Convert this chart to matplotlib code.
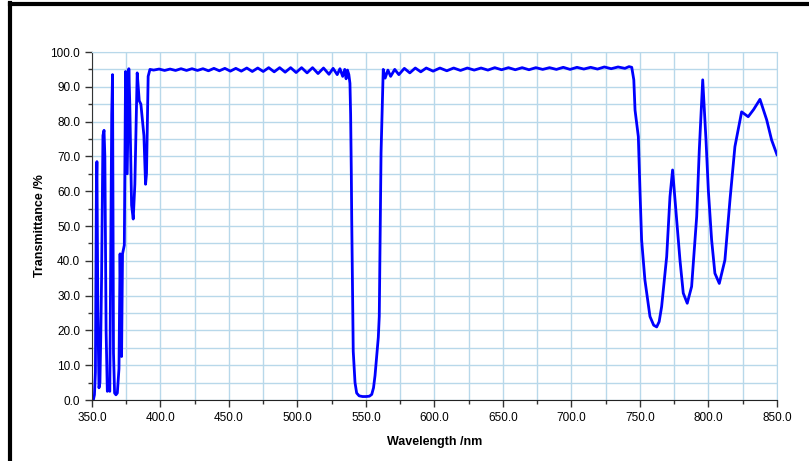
import numpy as np
import matplotlib.pyplot as plt
from matplotlib.lines import Line2D

# UV edge: fast oscillations 350-392 nm
uv_wl = [350, 351, 351.8, 352.5, 353.2, 353.6, 354.3, 355.1, 355.8, 356.4, 357.0, 358.0, 358.8,
         359.4, 360.3, 361.2, 362.0, 363.0, 363.8, 364.4, 365.0, 365.7, 366.5, 367.5, 368.5,
         369.7, 370.5, 371.6, 372.3, 373.6, 374.5, 375.7, 376.9, 377.6, 378.9, 380.1, 381.3,
         383.0, 384.5, 385.7, 387.9, 389.1, 389.8, 391.0, 392.3]
uv_t = [0, 0, 1.5, 8, 60, 68.5, 25, 3.5, 5, 18, 35, 76, 77.5,
        70, 20, 2.5, 3, 2.5, 50, 82, 93.5, 13.5, 2, 1.5, 2,
        9, 42, 12.5, 42, 44.5, 94.4, 65, 95.2, 85, 56, 52, 62,
        94, 86, 85, 76, 62, 65, 93, 95]

# pass band 392-538 nm
pb1_wl = [395, 399, 403, 407, 411, 415, 419, 423, 427, 431, 435, 439, 443, 447, 451, 455,
          459, 463, 467, 471, 475, 479, 483, 487, 491, 495, 499, 503, 507, 511, 515, 519,
          523, 526, 529, 531, 533, 534.5, 535.5, 536.5, 537.5]
pb1_t = [94.8, 95.1, 94.7, 95.1, 94.7, 95.2, 94.7, 95.2, 94.7, 95.2, 94.6, 95.3, 94.6, 95.3,
         94.5, 95.3, 94.5, 95.4, 94.4, 95.4, 94.4, 95.5, 94.3, 95.5, 94.2, 95.5, 94.1, 95.5,
         94.0, 95.5, 93.8, 95.4, 93.6, 95.3, 93.5, 95.2, 93.0, 95.0, 92.3, 94.8, 93.5]

# notch around 550 nm
notch_wl = [538.3, 538.8, 539.3, 539.6, 540.3, 540.7, 542.0, 543.2, 545.0, 547.5, 550.0,
            552.5, 554.2, 555.5, 556.6, 557.8, 559.0, 559.7, 560.2, 561.0, 562.6]
notch_t = [91, 82, 65, 51.7, 27, 14, 5, 2, 1.2, 1.0, 1.0,
           1.1, 1.6, 3.5, 7, 12.6, 18, 24, 43, 71, 95]

# pass band 563-745 nm
pb2_wl = [564, 566, 568, 571, 574, 578, 582, 586, 590, 594, 599, 604, 609, 614, 619, 624,
          629, 634, 639, 644, 649, 654, 659, 664, 669, 674, 679, 684, 689, 694, 699, 704,
          709, 714, 719, 724, 729, 734, 739, 742, 744]
pb2_t = [92.5, 94.8, 93.0, 95.0, 93.5, 95.3, 94.0, 95.4, 94.3, 95.4, 94.5, 95.4, 94.6, 95.4,
         94.7, 95.4, 94.8, 95.4, 94.8, 95.5, 94.9, 95.5, 94.9, 95.5, 94.9, 95.5, 95.0, 95.5,
         95.0, 95.6, 95.0, 95.6, 95.1, 95.6, 95.1, 95.7, 95.2, 95.7, 95.3, 95.8, 95.6]

# NIR oscillations 745-850 nm
nir_wl = [745.5, 746.4, 748.8, 750.0, 751.2, 753.6, 757.3, 760.0, 762.2, 764.0, 765.8, 769.5,
          771.9, 773.8, 776.8, 779.2, 781.6, 784.5, 787.7, 791.4, 793.3, 795.8, 798.2, 799.9,
          802.3, 804.7, 807.9, 812.0, 815.7, 819.3, 824.2, 829.0, 833.0, 837.6, 842.5, 846.1, 850.0]
nir_t = [92, 83.3, 75.7, 60.3, 46, 34.5, 24, 21.5, 21, 22.5, 26.8, 41.2,
         58.4, 66.1, 51.7, 40.2, 30.7, 27.8, 32.6, 52.7, 71.8, 92, 74.7, 60.3,
         46, 36.4, 33.5, 40.2, 57.5, 72.8, 82.8, 81.4, 83.5, 86.4, 80.5, 74.7, 70.5]

wl = np.concatenate([uv_wl, pb1_wl, notch_wl, pb2_wl, nir_wl])
tr = np.concatenate([uv_t, pb1_t, notch_t, pb2_t, nir_t])

plt.rcParams['font.family'] = ['Liberation Sans', 'DejaVu Sans']

fig = plt.figure(figsize=(8.09, 4.61), dpi=100)
ax = fig.add_axes([0.1137, 0.1323, 0.8467, 0.7549])

ax.plot(wl, tr, color='#0000ff', lw=2.0)

ax.set_xlim(350, 850)
ax.set_ylim(0, 100)
ax.set_xticks(np.arange(350, 851, 50))
ax.set_xticks(np.arange(375, 850, 50), minor=True)
ax.set_yticks(np.arange(0, 101, 10))
ax.set_yticks(np.arange(5, 100, 10), minor=True)
ax.set_xticklabels(['%.1f' % v for v in np.arange(350, 851, 50)])
ax.set_yticklabels(['%.1f' % v for v in np.arange(0, 101, 10)])
ax.tick_params(axis='both', which='major', labelsize=8.5, length=5, width=1, color='#333333')
ax.tick_params(axis='both', which='minor', length=3, width=1, color='#333333')

ax.grid(True, which='both', color='#b8d8ea', lw=1)
ax.set_axisbelow(True)
for s in ['top', 'right']:
    ax.spines[s].set_color('#b8d8ea')
ax.spines['left'].set_color('#333333')
ax.spines['bottom'].set_color('#222222')

ax.set_xlabel('Wavelength /nm', fontsize=9, fontweight='bold', labelpad=9)
ax.set_ylabel('Transmittance /%', fontsize=9, fontweight='bold', labelpad=3)

# black frame on left and top
fig.add_artist(Line2D([0.0123, 0.0123], [0, 0.993], color='black', lw=3, transform=fig.transFigure))
fig.add_artist(Line2D([0.0123, 1.0], [0.991, 0.991], color='black', lw=3, transform=fig.transFigure))

fig.savefig('out.png', dpi=100)
